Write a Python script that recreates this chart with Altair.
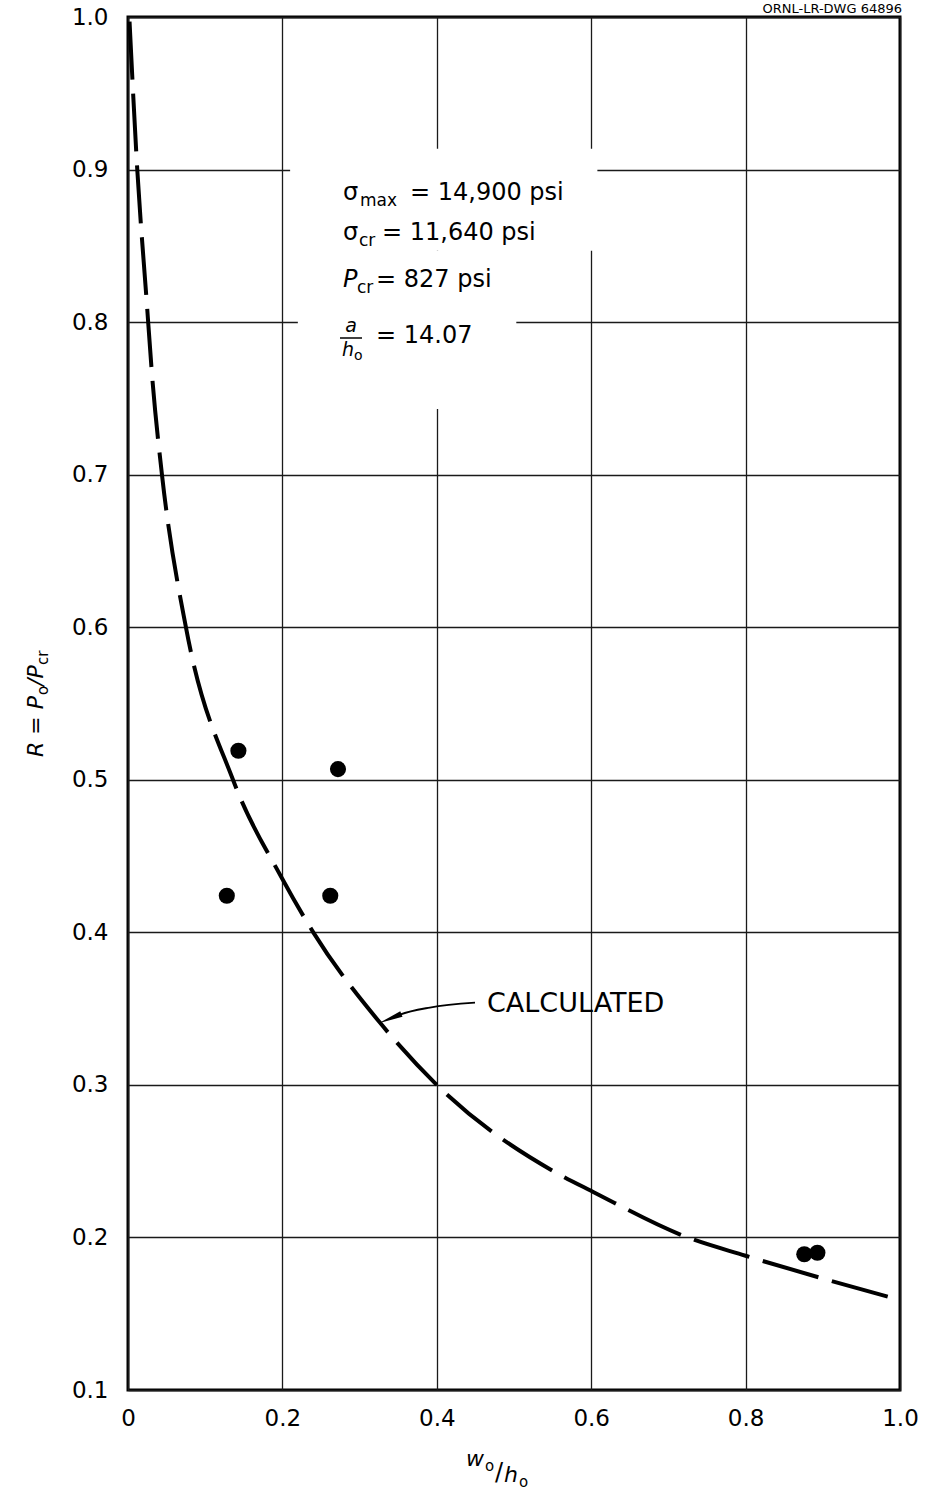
import altair as alt
import pandas as pd

# ---------------- data ----------------
curve_x = [0.002, 0.012, 0.024, 0.032, 0.044, 0.075, 0.136, 0.200, 0.240, 0.326,
           0.400, 0.556, 0.602, 0.725, 0.800, 1.000]
curve_y = [0.997, 0.900, 0.815, 0.760, 0.700, 0.600, 0.500, 0.435, 0.400, 0.341,
           0.300, 0.242, 0.230, 0.200, 0.188, 0.159]

test_x = [0.128, 0.143, 0.262, 0.272, 0.876, 0.893]
test_y = [0.424, 0.519, 0.424, 0.507, 0.189, 0.190]

x_ticks = [0, 0.2, 0.4, 0.6, 0.8, 1.0]
y_ticks = [0.1, 0.2, 0.3, 0.4, 0.5, 0.6, 0.7, 0.8, 0.9, 1.0]

# annotation anchors (data coordinates)
arrow_x = [0.4495, 0.391, 0.3523, 0.3394]
arrow_y = [0.3539, 0.3507, 0.3461, 0.3434]
head_x = [0.3394]
head_y = [0.3434]

# white boxes behind the note text (grid gaps), data coordinates
mask_x1 = [0.210, 0.220]
mask_x2 = [0.608, 0.503]
mask_y1 = [0.8467, 0.743]
mask_y2 = [0.9137, 0.8467]

FONT = "DejaVu Sans"
OX, OY = 128, 17
W, H = 772, 1373

xs = alt.Scale(domain=[0, 1], nice=False, zero=False)
ys = alt.Scale(domain=[0.1, 1.0], nice=False, zero=False)

X = alt.X("x:Q", scale=xs, axis=alt.Axis(
    values=x_ticks, title=None, grid=True, ticks=False, domain=False,
    labelExpr="datum.value == 0 ? '0' : format(datum.value, '.1f')",
    labelFont=FONT, labelFontSize=23, labelColor="black", labelPadding=17,
    labelFlush=False, labelOverlap=False,
    gridColor="#1a1a1a", gridWidth=1.3, zindex=0))
Y = alt.Y("y:Q", scale=ys, axis=alt.Axis(
    values=y_ticks, title=None, grid=True, ticks=False, domain=False,
    format=".1f", labelFont=FONT, labelFontSize=23, labelColor="black",
    labelPadding=20, labelFlush=False, labelOverlap=False,
    gridColor="#1a1a1a", gridWidth=1.3, zindex=0))

mask_df = pd.DataFrame({"x": mask_x1, "x2": mask_x2, "y": mask_y1, "y2": mask_y2})
mask = alt.Chart(mask_df).mark_rect(color="white").encode(
    x=X, x2="x2:Q", y=Y, y2="y2:Q")

curve_df = pd.DataFrame({"x": curve_x, "y": curve_y})
curve = alt.Chart(curve_df).mark_line(
    color="black", strokeWidth=4, strokeDash=[58, 14], interpolate="monotone"
).encode(x=X, y=Y, order="x:Q")

pts_df = pd.DataFrame({"x": test_x, "y": test_y})
pts = alt.Chart(pts_df).mark_point(
    filled=True, color="black", size=260, opacity=1, shape="circle"
).encode(x=X, y=Y)

arrow_df = pd.DataFrame({"x": arrow_x, "y": arrow_y})
arrow = alt.Chart(arrow_df).mark_line(
    color="black", strokeWidth=1.8, interpolate="monotone"
).encode(x=X, y=Y, order="x:Q")

head_df = pd.DataFrame({"x": head_x, "y": head_y})
head = alt.Chart(head_df).mark_point(
    filled=True, color="black", opacity=1, size=600, angle=248,
    shape="M0,-1L0.24,1L-0.24,1Z"
).encode(x=X, y=Y)


def txt(text, sx, sy, size=22, style="normal", align="left",
        baseline="alphabetic", angle=0, dx=0, dy=0):
    return alt.Chart(alt.Data(values=[{}])).mark_text(
        text=text, font=FONT, fontSize=size, fontStyle=style, align=align,
        baseline=baseline, angle=angle, dx=dx, dy=dy, color="black"
    ).encode(x=alt.value(sx - OX), y=alt.value(sy - OY))


texts = [
    # drawing number (top right)
    txt("ORNL-LR-DWG 64896", 902, 13, size=13, align="right"),
    # note block
    txt("σ", 343, 200, size=24), txt("max", 360, 206, size=17), txt("= 14,900 psi", 410, 200, size=24),
    txt("σ", 343, 240, size=24), txt("cr", 359, 246, size=17), txt("= 11,640 psi", 382, 240, size=24),
    txt("P", 343, 287, size=24, style="italic"), txt("cr", 357, 293, size=17), txt("= 827 psi", 376, 287, size=24),
    txt("a", 351, 332, size=19, style="italic", align="center"),
    txt("h", 342, 356, size=19, style="italic"), txt("o", 354, 360, size=14),
    txt("= 14.07", 376, 343, size=24),
    # curve label
    txt("CALCULATED", 487, 1012, size=27),
    # x title
    txt("w", 466, 1466, style="italic"), txt("o", 485, 1471, size=15),
    txt("/", 495, 1480, size=24), txt("h", 504, 1482, style="italic"),
    txt("o", 519, 1487, size=15),
    # y title (rotated)
    txt("R = P", 43, 757, style="italic", angle=270),
    txt("o", 43, 757, size=15, angle=270, dx=62, dy=5),
    txt("/P", 43, 757, style="italic", angle=270, dx=71),
    txt("cr", 43, 757, size=15, angle=270, dx=92, dy=5),
]

frac_bar = alt.Chart(alt.Data(values=[{}])).mark_rule(
    color="black", strokeWidth=1.5
).encode(x=alt.value(340 - OX), x2=alt.value(362 - OX), y=alt.value(338 - OY))

chart = alt.layer(mask, curve, pts, arrow, head, frac_bar, *texts).properties(
    width=W, height=H,
    autosize=alt.AutoSizeParams(type="none"),
    padding={"left": OX, "top": OY, "right": 925 - OX - W, "bottom": 1499 - OY - H},
    background="white",
).configure_view(stroke="black", strokeWidth=3)

chart.save("out.html", embed_options={"renderer": "svg", "actions": False})
